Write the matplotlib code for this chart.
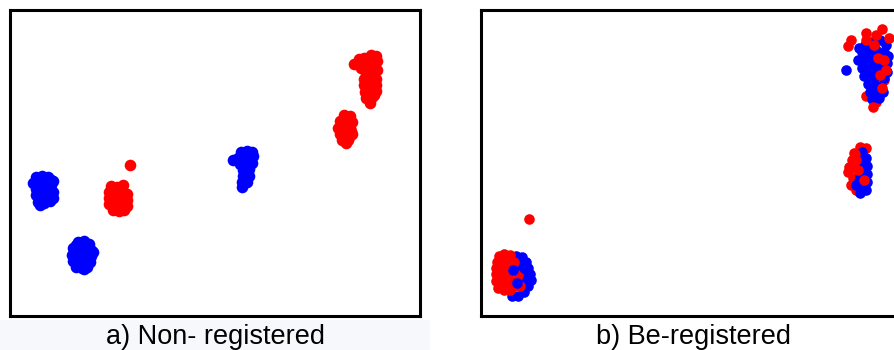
"""Two embedding scatter panels: before and after registration."""

import matplotlib
matplotlib.use("Agg")
import matplotlib.pyplot as plt
from matplotlib.patches import Rectangle

W, H = 894, 350

# ---- panel a) non-registered (units: axes pixels, origin lower-left) ----
left_blue_x = [26, 32, 38, 43, 23, 29, 35, 41, 26, 32, 38, 43, 26, 32, 38, 43, 28, 34, 40, 30,
               29, 35, 41, 29, 35, 41, 29, 35, 41,
               68, 74, 79, 63, 69, 75, 81, 62, 68, 74, 81, 83, 63, 69, 75, 80, 66, 72, 77, 74,
               66, 72, 78, 66, 72, 78, 69, 75,
               231, 237, 242, 228, 234, 240, 243, 223, 230, 236, 242, 233, 239, 233, 239, 232, 237, 232,
               236, 236, 236]
left_blue_y = [139, 140, 139, 135, 133, 133, 134, 131, 127, 127, 127, 124, 121, 120, 120, 118, 114, 113, 115, 111,
               136, 136, 136, 130, 130, 124, 117, 117, 117,
               74, 75, 72, 68, 68, 68, 66, 61, 61, 61, 60, 64, 55, 55, 55, 54, 49, 48, 49, 47,
               71, 71, 65, 64, 58, 58, 52, 52,
               164, 165, 164, 158, 158, 158, 160, 156, 152, 152, 153, 146, 147, 140, 140, 134, 134, 129,
               161, 149, 143]
left_red_x = [101, 107, 113, 99, 105, 111, 117, 99, 105, 111, 117, 99, 105, 111, 117, 103, 109, 114, 120,
              104, 110, 102, 108, 114, 102, 108, 114, 106, 112,
              334, 340, 330, 336, 342, 328, 334, 340, 342, 330, 336, 332, 338, 336,
              337, 333, 339, 335, 341, 333, 339,
              344, 349, 354, 361, 366, 351, 358, 365, 367, 356, 363, 367, 354, 360, 366, 354, 360, 366,
              355, 361, 366, 356, 362, 360,
              362, 357, 363, 357, 363, 358, 364]
left_red_y = [130, 129, 131, 124, 124, 124, 122, 118, 118, 118, 116, 112, 111, 111, 110, 106, 105, 106, 151,
              127, 127, 121, 121, 120, 115, 115, 114, 108, 108,
              201, 200, 195, 195, 194, 188, 188, 188, 182, 182, 182, 176, 176, 173,
              198, 191, 191, 185, 185, 179, 179,
              252, 257, 258, 261, 260, 248, 251, 253, 255, 243, 244, 246, 237, 237, 237, 231, 230, 231,
              224, 224, 225, 218, 219, 213,
              248, 240, 240, 234, 234, 228, 221]

# ---- panel b) be-registered: points in draw order with a label ----
right_x = [30, 36, 42, 46, 48, 50, 51, 48, 44, 38, 32, 40, 42, 34, 36, 44, 46, 40,
           19, 24, 30, 17, 23, 29, 16, 22, 28, 16, 22, 28, 16, 22, 27, 18, 24, 30, 34, 38, 35, 40, 49,
           20, 26, 20, 26, 20, 25, 22,
           33, 37, 44,
           380, 386, 374, 372, 369, 368, 373, 371, 376,
           382, 386, 387, 387, 387, 386, 380, 376, 380, 382, 381, 384, 383, 379,
           376, 378, 384, 375, 372,
           390, 404, 388, 392, 400, 386, 396,
           385, 392, 400, 406, 382, 389, 396, 404, 408, 381, 387, 394, 401, 407, 382, 388, 395, 402,
           407, 384, 390, 397, 404, 388, 394, 401, 390, 397, 403, 392, 399,
           386, 394, 404, 400, 406, 398, 393, 402,
           371, 368, 386, 402, 396, 409,
           366, 379, 378]
right_y = [59, 59, 58, 53, 47, 41, 35, 29, 23, 19, 19, 45, 35, 33, 51, 29, 41, 53,
           59, 61, 60, 53, 53, 52, 47, 47, 45, 41, 40, 38, 34, 34, 30, 27, 25, 25, 53, 40, 29, 29, 96,
           56, 56, 44, 44, 37, 37, 30,
           45, 32, 47,
           168, 167, 162, 155, 148, 143, 137, 130, 125,
           163, 157, 149, 141, 133, 125, 122, 130, 139, 149, 156, 143, 128, 134,
           155, 145, 135, 161, 148,
           245, 235, 243, 227, 240, 219, 213,
           270, 273, 275, 270, 263, 263, 265, 263, 259, 255, 255, 255, 255, 252, 247, 247, 247, 247,
           243, 239, 239, 239, 237, 231, 231, 229, 223, 223, 223, 216, 217,
           275, 270, 255, 240, 245, 257, 208, 227,
           275, 269, 282, 286, 280, 277,
           245, 267, 255]
right_label = (["b"] * 18 + ["r"] * 30 + ["b"] * 3
               + ["r"] * 9 + ["b"] * 14 + ["r"] * 5
               + ["r"] * 7 + ["b"] * 31 + ["r"] * 8 + ["r"] * 6 + ["b"] * 3)

captions = ["a) Non- registered", "b) Be-registered"]

COLORS = {"b": "#0000ff", "r": "#ff0000"}

fig = plt.figure(figsize=(W / 100, H / 100), dpi=100)
fig.patch.set_facecolor("white")

# faint band behind the first caption
fig.patches.append(Rectangle((0, 0), 430 / W, 30 / H, transform=fig.transFigure,
                             facecolor="#f7f8fc", edgecolor="none", zorder=0))

ax_a = fig.add_axes([9.5 / W, 34.5 / H, 410 / W, 306 / H])
ax_b = fig.add_axes([480.5 / W, 34.5 / H, 415 / W, 306 / H])

ax_a.scatter(left_blue_x, left_blue_y, s=70, c=COLORS["b"], linewidths=0)
ax_a.scatter(left_red_x, left_red_y, s=70, c=COLORS["r"], linewidths=0)
ax_a.set_xlim(0, 410)
ax_a.set_ylim(0, 306)

ax_b.scatter(right_x, right_y, s=58, c=[COLORS[k] for k in right_label], linewidths=0)
ax_b.set_xlim(0, 415)
ax_b.set_ylim(0, 306)

for ax in (ax_a, ax_b):
    ax.set_xticks([])
    ax.set_yticks([])
    for sp in ax.spines.values():
        sp.set_linewidth(2.2)
        sp.set_color("black")

for cx, text in zip((215, 693), captions):
    fig.text(cx / W, 6 / H, text, ha="center", va="baseline",
             fontsize=19.5, family="Liberation Sans", color="black")

fig.savefig("out.png", dpi=100)
